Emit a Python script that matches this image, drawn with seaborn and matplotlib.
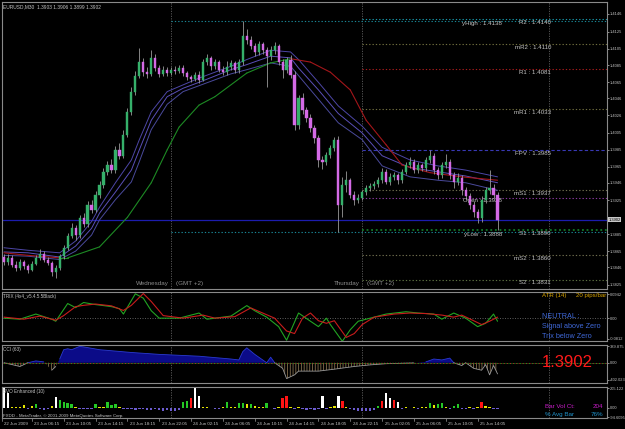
import numpy as np
import pandas as pd
import matplotlib
matplotlib.use("Agg")
import matplotlib.pyplot as plt
import matplotlib.transforms as mtransforms
import seaborn as sns

# ------------------------------------------------------------------ data
chart_title = "EURUSD,M30  1.3903 1.3906 1.3899 1.3902"
first_open = 1.3858
closes = [1.3852, 1.3857, 1.3849, 1.3845, 1.3852, 1.3847, 1.3843, 1.3850, 1.3857, 1.3862,
          1.3855, 1.3851, 1.3840, 1.3845, 1.3859, 1.3869, 1.3883, 1.3892, 1.3884, 1.3904,
          1.3897, 1.3920, 1.3914, 1.3932, 1.3943, 1.3959, 1.3967, 1.3961, 1.3985, 1.3978,
          1.4003, 1.4030, 1.4054, 1.4073, 1.4089, 1.4077, 1.4075, 1.4094, 1.4082, 1.4075,
          1.4080, 1.4076, 1.4080, 1.4079, 1.4082, 1.4076, 1.4071, 1.4069, 1.4074, 1.4068,
          1.4089, 1.4094, 1.4084, 1.4089, 1.4080, 1.4077, 1.4083, 1.4088, 1.4080, 1.4089,
          1.4120, 1.4115, 1.4108, 1.4101, 1.4110, 1.4103, 1.4096, 1.4103, 1.4108, 1.4089,
          1.4080, 1.4091, 1.4074, 1.4014, 1.4046, 1.4032, 1.4023, 1.4011, 1.3999, 1.3973,
          1.3971, 1.3979, 1.3987, 1.3997, 1.3920, 1.3943, 1.3949, 1.3932, 1.3926, 1.3928,
          1.3935, 1.3940, 1.3942, 1.3944, 1.3949, 1.3959, 1.3947, 1.3953, 1.3955, 1.3949,
          1.3959, 1.3967, 1.3971, 1.3961, 1.3967, 1.3964, 1.3973, 1.3978, 1.3961, 1.3955,
          1.3967, 1.3971, 1.3955, 1.3947, 1.3952, 1.3937, 1.3930, 1.3920, 1.3911, 1.3904,
          1.3926, 1.3937, 1.3940, 1.3932, 1.3902]
highs = [1.3862, 1.3861, 1.3860, 1.3853, 1.3856, 1.3855, 1.3850, 1.3853, 1.3860, 1.3868,
         1.3865, 1.3858, 1.3853, 1.3848, 1.3862, 1.3872, 1.3886, 1.3898, 1.3896, 1.3908,
         1.3910, 1.3924, 1.3926, 1.3936, 1.3948, 1.3963, 1.3972, 1.3974, 1.3990, 1.3993,
         1.4008, 1.4035, 1.4060, 1.4078, 1.4106, 1.4094, 1.4083, 1.4103, 1.4098, 1.4086,
         1.4084, 1.4083, 1.4083, 1.4084, 1.4086, 1.4085, 1.4079, 1.4074, 1.4077, 1.4078,
         1.4093, 1.4098, 1.4096, 1.4093, 1.4092, 1.4084, 1.4090, 1.4092, 1.4090, 1.4093,
         1.4138, 1.4128, 1.4120, 1.4112, 1.4114, 1.4113, 1.4107, 1.4108, 1.4113, 1.4110,
         1.4093, 1.4095, 1.4097, 1.4078, 1.4050, 1.4052, 1.4036, 1.4027, 1.4015, 1.4003,
         1.3978, 1.3983, 1.3991, 1.4000, 1.4001, 1.3953, 1.3960, 1.3952, 1.3936, 1.3933,
         1.3938, 1.3943, 1.3946, 1.3948, 1.3953, 1.3963, 1.3962, 1.3957, 1.3959, 1.3958,
         1.3962, 1.3971, 1.3976, 1.3974, 1.3971, 1.3970, 1.3977, 1.3985, 1.3981, 1.3965,
         1.3971, 1.3980, 1.3974, 1.3959, 1.3957, 1.3955, 1.3941, 1.3934, 1.3924, 1.3915,
         1.3930, 1.3941, 1.3961, 1.3944, 1.3935]
lows = [1.3848, 1.3849, 1.3846, 1.3841, 1.3843, 1.3844, 1.3839, 1.3841, 1.3848, 1.3854,
        1.3852, 1.3848, 1.3836, 1.3833, 1.3843, 1.3856, 1.3866, 1.3880, 1.3878, 1.3881,
        1.3893, 1.3894, 1.3910, 1.3911, 1.3928, 1.3940, 1.3955, 1.3957, 1.3958, 1.3974,
        1.3975, 1.4000, 1.4026, 1.4050, 1.4070, 1.4072, 1.4070, 1.4072, 1.4078, 1.4071,
        1.4072, 1.4073, 1.4074, 1.4075, 1.4076, 1.4073, 1.4068, 1.4065, 1.4066, 1.4064,
        1.4066, 1.4085, 1.4080, 1.4081, 1.4077, 1.4074, 1.4074, 1.4080, 1.4076, 1.4076,
        1.4086, 1.4110, 1.4104, 1.4096, 1.4097, 1.4098, 1.4060, 1.4092, 1.4099, 1.4085,
        1.4070, 1.4076, 1.4070, 1.4008, 1.4010, 1.4028, 1.4018, 1.4006, 1.3993, 1.3965,
        1.3962, 1.3967, 1.3975, 1.3984, 1.3888, 1.3906, 1.3935, 1.3928, 1.3920, 1.3922,
        1.3925, 1.3931, 1.3936, 1.3939, 1.3941, 1.3946, 1.3944, 1.3943, 1.3949, 1.3945,
        1.3946, 1.3956, 1.3963, 1.3957, 1.3958, 1.3960, 1.3960, 1.3969, 1.3956, 1.3950,
        1.3952, 1.3963, 1.3951, 1.3940, 1.3943, 1.3932, 1.3925, 1.3915, 1.3906, 1.3898,
        1.3900, 1.3922, 1.3933, 1.3928, 1.3890]

# moving-average envelope (read at sample bars)
ma_bars = [0, 6, 14, 18, 22, 24, 28, 32, 34, 37, 41, 45, 49, 57, 61, 67, 72, 74, 79, 84, 90, 95, 102, 109, 116, 124]
band_upper = [1.3869, 1.3866, 1.3863, 1.3877, 1.3900, 1.3917, 1.3946, 1.3973, 1.3997, 1.4030, 1.4054, 1.4062, 1.4070,
              1.4084, 1.4092, 1.4103, 1.4101, 1.4092, 1.4065, 1.4037, 1.4013, 1.3988, 1.3973, 1.3966, 1.3961, 1.3953]
band_mid = [1.3864, 1.3863, 1.3858, 1.3871, 1.3892, 1.3910, 1.3935, 1.3961, 1.3985, 1.4020, 1.4048, 1.4058, 1.4065,
            1.4080, 1.4086, 1.4096, 1.4094, 1.4082, 1.4056, 1.4028, 1.4005, 1.3978, 1.3964, 1.3959, 1.3954, 1.3946]
band_lower = [1.3860, 1.3859, 1.3855, 1.3865, 1.3884, 1.3902, 1.3926, 1.3947, 1.3971, 1.4009, 1.4039, 1.4054, 1.4061,
              1.4075, 1.4080, 1.4088, 1.4084, 1.4073, 1.4045, 1.4017, 1.3997, 1.3966, 1.3953, 1.3949, 1.3946, 1.3937]
slow_bars = [0, 6, 14, 16, 24, 31, 37, 41, 44, 49, 53, 61, 67, 72, 77, 82, 87, 91, 96, 100, 107, 115, 124]
slow_ma = [1.3863, 1.3860, 1.3857, 1.3857, 1.3870, 1.3905, 1.3946, 1.3985, 1.4012, 1.4038, 1.4048, 1.4076,
           1.4088, 1.4093, 1.4089, 1.4077, 1.4056, 1.4020, 1.3991, 1.3967, 1.3958, 1.3953, 1.3949]

# pivots and levels
pivot_names = ["R2", "mR2", "R1", "mR1", "FPV", "mS1", "S1", "mS2", "S2"]
pivot_values = [1.4140, 1.4110, 1.4081, 1.4033, 1.3985, 1.3937, 1.3890, 1.3860, 1.3831]
y_high = 1.4138
y_low = 1.3888
day_open = 1.3928
last_price = 1.3902
day_breaks = [42, 90, 137]
day_names = ["Wednesday", "Thursday"]

price_ticks = [1.4146, 1.4125, 1.4105, 1.4085, 1.4065, 1.4046, 1.4026, 1.4005, 1.3985, 1.3965,
               1.3946, 1.3925, 1.3885, 1.3865, 1.3846, 1.3825]

# TRIX panel
trix_bars = [0, 4, 8, 12, 13, 16, 18, 20, 23, 27, 29, 30, 33, 35, 37, 39, 44, 49, 51, 57, 61, 63, 66, 69, 71,
             74, 77, 79, 81, 82, 85, 87, 89, 92, 96, 101, 104, 108, 110, 113, 116, 119, 121, 123, 124]
trix_main = [0, -0.004, 0.016, -0.004, -0.012, 0.057, 0.041, 0.061, 0.053, 0.045, 0.037, 0.016, 0.095, 0.078,
             0.029, 0, 0, 0.020, -0.004, 0.008, 0.049, 0.029, 0.004, -0.033, -0.086, 0.020, -0.012, -0.033, 0,
             -0.025, -0.090, -0.045, -0.012, 0, 0.016, 0.025, 0.020, 0.016, -0.004, 0.020, 0, -0.033, -0.020,
             0.016, -0.012]
signal_bars = [0, 5, 9, 13, 15, 18, 20, 23, 27, 30, 32, 35, 37, 40, 45, 50, 53, 58, 62, 65, 68, 71, 73, 75, 77,
               79, 81, 83, 86, 88, 90, 93, 98, 102, 106, 110, 113, 115, 118, 120, 122, 124]
trix_signal = [0.004, -0.004, 0.008, -0.008, 0.010, 0.045, 0.050, 0.055, 0.048, 0.030, 0.050, 0.096, 0.065, 0.010,
               0, 0.012, 0, 0.006, 0.040, 0.020, 0, -0.050, -0.060, 0, 0.020, -0.010, -0.020, -0.010, -0.075,
               -0.060, -0.025, 0.004, 0.016, 0.020, 0.018, 0.012, 0.004, 0.012, -0.010, -0.025, -0.012, 0.004]
trix_ticks = [0.0942, 0.0, -0.0812]
trix_tick_labels = ["0.0942", "0.00", "-0.0812"]

# CCI panel
cci_bars = [0, 2, 4, 6, 8, 10, 12, 13, 14, 15, 16, 17, 19, 20, 24, 32, 39, 49, 57, 59, 60, 61, 63, 65, 66, 67,
            68, 69, 70, 71, 73, 74, 79, 83, 88, 92, 96, 103, 106, 108, 110, 112, 113, 115, 116, 118, 120, 121,
            122, 123, 124]
cci_values = [0, -43, -87, 0, 43, 20, -174, -87, 87, 304, 326, 304, 380, 369, 304, 239, 195, 152, 87, 65, 260,
              347, 195, 65, 0, 130, 0, -65, -130, -369, -282, -195, -195, -150, -87, -50, -22, -5, 20, 87, 65,
              108, 0, -65, 0, -130, -174, -43, -282, -65, -260]
cci_ticks = [389.875, 0.0, -402.023]
cci_tick_labels = ["389.875", "0.00", "-402.023"]

# volume panel
vol_values = [200, 150, 10, 8, 12, 25, -12, 15, 40, -10,
              -18, -15, 20, 110, 80, 65, 55, 40, 12, -8,
              -12, -15, -10, 35, 8, 10, 60, 25, 40, 10,
              -10, -8, -12, -20, -15, -10, -20, -25, -12, -20,
              -30, -25, -35, -30, -20, 60, 75, 100, 205, 120,
              8, 5, -5, -15, -12, 10, 60, 8, 10, 45,
              50, 35, 40, 20, 10, 8, 50, -6, -8, 10,
              100, 120, 8, -10, 6, -12, -18, -15, -20, -14,
              120, -8, 12, 20, 120, 70, 10, -15, -25, -30,
              -28, -35, -30, -20, 15, 70, 150, 100, 80, 60,
              -8, 8, -6, 10, -10, 6, 8, 50, 30, 40,
              50, 12, -10, 15, 40, -12, -10, 10, -8, 8,
              60, 15, 10, -10, -15]
vol_kind = ["W", "W", "Y", "Y", "Y", "Y", "N", "Y", "G", "N",
            "N", "N", "Y", "W", "G", "G", "G", "G", "Y", "N",
            "N", "N", "N", "G", "Y", "Y", "G", "G", "G", "Y",
            "N", "N", "N", "N", "N", "N", "N", "N", "N", "N",
            "N", "N", "N", "N", "N", "G", "G", "R", "W", "W",
            "Y", "Y", "N", "N", "N", "Y", "G", "Y", "Y", "G",
            "G", "Y", "G", "Y", "Y", "Y", "G", "N", "N", "Y",
            "R", "R", "Y", "N", "Y", "N", "N", "N", "N", "N",
            "W", "N", "Y", "Y", "W", "R", "Y", "N", "N", "N",
            "N", "N", "N", "N", "G", "R", "W", "W", "R", "W",
            "N", "Y", "N", "Y", "N", "Y", "Y", "G", "Y", "G",
            "G", "Y", "N", "G", "G", "N", "N", "Y", "N", "Y",
            "R", "Y", "Y", "N", "N"]
vol_ticks = [205.122, 0.0, -94.6095]
vol_tick_labels = ["205.122", "0.00", "-94.6095"]
bar_vol_count = "204"
avg_bar_pct = "76%"
atr_text = "20 pips/bar"

date_tick_bars = [-0.5, 7, 15, 23, 31, 39, 47, 55, 63, 71, 79, 87, 95, 103, 111, 119]
date_tick_labels = ["22 Jun 2009", "23 Jun 06:15", "23 Jun 10:05", "23 Jun 14:15", "23 Jun 18:15",
                    "23 Jun 22:05", "24 Jun 02:15", "24 Jun 06:05", "24 Jun 10:15", "24 Jun 14:15",
                    "24 Jun 18:05", "24 Jun 22:15", "25 Jun 02:05", "25 Jun 06:05", "25 Jun 10:05",
                    "25 Jun 14:05"]

# ------------------------------------------------------------------ style
sns.set_theme(style="dark", rc={"axes.facecolor": "black", "figure.facecolor": "black"})
plt.rcParams["font.family"] = ["Liberation Sans", "DejaVu Sans"]
plt.rcParams["hatch.linewidth"] = 0.6

W, H = 625, 429
fig = plt.figure(figsize=(W / 100, H / 100), dpi=100, facecolor="black")


def rect(top, bottom):
    return [2 / W, 1 - bottom / H, 605 / W, (bottom - top) / H]


ax_p = fig.add_axes(rect(2, 289))
ax_t = fig.add_axes(rect(292, 341), sharex=ax_p)
ax_c = fig.add_axes(rect(345, 383), sharex=ax_p)
ax_v = fig.add_axes(rect(387, 418), sharex=ax_p)
axes = [ax_p, ax_t, ax_c, ax_v]

TXT = "#c4c4c4"
GRID = "#5e5e5e"

# ------------------------------------------------------------------ price panel
x = np.arange(len(closes))
c = np.array(closes)
o = np.r_[first_open, c[:-1]]
up = c >= o
ax_p.vlines(x, lows, highs, color="#9a9a9a", lw=0.6, zorder=3)
ax_p.bar(x[up], (c - o)[up], bottom=o[up], width=0.55, color="#35b06a", edgecolor="#35b06a",
         linewidth=0.3, zorder=4)
ax_p.bar(x[~up], (c - o)[~up], bottom=o[~up], width=0.55, color="#d46ae6", edgecolor="#d46ae6",
         linewidth=0.3, zorder=4)

bands = pd.DataFrame({"bar": ma_bars, "upper": band_upper, "mid": band_mid, "lower": band_lower})
bands = bands.melt("bar", var_name="band", value_name="price")
sns.lineplot(data=bands, x="bar", y="price", hue="band",
             palette={"upper": "#4d46a6", "mid": "#5a4fb8", "lower": "#4a4a9c"},
             lw=0.7, legend=False, ax=ax_p, zorder=2)
for k in range(len(slow_bars) - 1):
    col = "#1d8a24" if slow_ma[k + 1] >= slow_ma[k] else "#a3161a"
    ax_p.plot(slow_bars[k:k + 2], slow_ma[k:k + 2], color=col, lw=0.8, zorder=2)

XR = 151.5
ax_p.axhline(last_price, color="#1c1cae", lw=0.9, zorder=1)
dot = (0, (1.2, 1.8))
ax_p.hlines([y_high, y_low], day_breaks[0], XR, colors="#1a8594", lw=0.8, linestyles=dot, zorder=1)
pivot_colors = {"R2": "#1a95a8", "mR2": "#6e6d3e", "R1": "#a31c1c", "mR1": "#6e6d3e", "FPV": "#3838b4",
                "mS1": "#6e6d4e", "S1": "#14902e", "mS2": "#6e6d4e", "S2": "#5c7040"}
for name, val in zip(pivot_names, pivot_values):
    ls = (0, (3, 2)) if name == "FPV" else dot
    lw = 1.1 if name == "S1" else 0.8
    ax_p.hlines(val, day_breaks[1], XR, colors=pivot_colors[name], lw=lw, linestyles=ls, zorder=1)
    ax_p.text(137.4, val - 0.00008, f"{name} : {val:.4f}", color=TXT, fontsize=4.4, ha="right", va="top")
ax_p.hlines(day_open, day_breaks[1], XR, colors="#8a3a9e", lw=0.8, linestyles=dot, zorder=1)
ax_p.text(125.1, y_high - 0.00008, f"yHigh : {y_high:.4f}", color=TXT, fontsize=4.4, ha="right", va="top")
ax_p.text(125.1, day_open - 0.00002, f"Open : {day_open:.4f}", color=TXT, fontsize=4.4, ha="right", va="top")
ax_p.text(125.1, y_low - 0.00008, f"yLow : {y_low:.4f}", color=TXT, fontsize=4.4, ha="right", va="top")

ax_p.text(0.002, 0.992, chart_title, transform=ax_p.transAxes, color=TXT, fontsize=3.5, ha="left", va="top")
trp = mtransforms.blended_transform_factory(ax_p.transData, ax_p.transAxes)
for d, nm in zip(day_breaks[:2], day_names):
    ax_p.text(d - 0.6, 0.018, nm, transform=trp, color="#8c8c8c", fontsize=4.5, ha="right", va="center")
    ax_p.text(d + 1.3, 0.018, "(GMT +2)", transform=trp, color="#8c8c8c", fontsize=4.5, ha="left", va="center")

ax_p.set_ylim(1.38201, 1.41602)
ax_p.set_yticks(price_ticks)
ax_p.set_yticklabels([f"{t:.4f}" for t in price_ticks])
tra = mtransforms.blended_transform_factory(ax_p.transAxes, ax_p.transData)
ax_p.text(1.002, last_price, f"{last_price:.4f}", transform=tra, color="black", fontsize=2.9, ha="left",
          va="center", bbox=dict(boxstyle="square,pad=0.15", fc="#c8c8c8", ec="none"), clip_on=False, zorder=10)

# ------------------------------------------------------------------ TRIX panel
ax_t.axhline(0, color="#6a6a6a", lw=0.6, ls=dot)
sns.lineplot(x=trix_bars, y=trix_main, color="#22a422", lw=0.8, ax=ax_t)
sns.lineplot(x=signal_bars, y=trix_signal, color="#c81c1c", lw=0.8, ax=ax_t)
ax_t.set_ylim(-0.089, 0.102)
ax_t.set_yticks(trix_ticks)
ax_t.set_yticklabels(trix_tick_labels)
ax_t.text(0.002, 0.95, "TRIX (4x4_v5.4.5.5Black)", transform=ax_t.transAxes, color=TXT, fontsize=3.3,
          ha="left", va="top")
ax_t.text(0.8926, 0.92, "ATR (14)", transform=ax_t.transAxes, color="#d9a400", fontsize=4.4, ha="left",
          va="center")
ax_t.text(0.9995, 0.92, atr_text, transform=ax_t.transAxes, color="#d9a400", fontsize=4.4, ha="right",
          va="center")
for yy, s in zip([0.49, 0.29, 0.10], ["NEUTRAL :", "Signal above Zero", "Trix below Zero"]):
    ax_t.text(0.8926, yy, s, transform=ax_t.transAxes, color="#3f68d8", fontsize=5.2, ha="left", va="center")

# ------------------------------------------------------------------ CCI panel
cx = np.array(cci_bars, float)
cv = np.array(cci_values, float)
ax_c.fill_between(cx, 0, cv, where=cv >= 0, interpolate=True, color="#0b0b88", lw=0)
ax_c.fill_between(cx, 0, cv, where=cv <= 0, interpolate=True, facecolor="none", edgecolor="#86704f",
                  hatch="||||||", lw=0)
ax_c.plot(cx, np.ma.masked_where(cv < 0, cv), color="#2a3ad0", lw=0.6)
ax_c.plot(cx, np.ma.masked_where(cv > 0, cv), color="#9a9a9a", lw=0.6)
ax_c.axhline(0, color="#b02a2a", lw=0.7, ls=(0, (1, 2)))
ax_c.axhline(0, color="#22a022", lw=0.7, ls=(1.5, (1, 2)))
ax_c.set_ylim(-471.9, 413.2)
ax_c.set_yticks(cci_ticks)
ax_c.set_yticklabels(cci_tick_labels)
ax_c.text(0.002, 0.95, "CCI (63)", transform=ax_c.transAxes, color=TXT, fontsize=3.4, ha="left", va="top")
ax_c.text(0.8926, 0.53, f"{last_price:.4f}", transform=ax_c.transAxes, color="#ff1a1a", fontsize=12,
          ha="left", va="center")

# ------------------------------------------------------------------ volume panel
vol_palette = {"W": "#ffffff", "G": "#25c825", "Y": "#e6e600", "R": "#ff1414", "N": "#6c5cd0"}
ax_v.bar(np.arange(len(vol_values)), vol_values, width=0.6, color=[vol_palette[k] for k in vol_kind],
         linewidth=0)
ax_v.set_ylim(-104.9, 215.5)
ax_v.set_yticks(vol_ticks)
ax_v.set_yticklabels(vol_tick_labels)
ax_v.text(0.002, 0.95, "BVO Enhanced (10)", transform=ax_v.transAxes, color=TXT, fontsize=3.3, ha="left",
          va="top")
ax_v.text(0.002, 0.07, "FXDD - MetaTrader, \u00a9 2001-2009 MetaQuotes Software Corp.", transform=ax_v.transAxes,
          color=TXT, fontsize=3.2, ha="left", va="center")
ax_v.text(0.8975, 0.37, "Bar Vol Ct:", transform=ax_v.transAxes, color="#c81cc8", fontsize=4.5, ha="left",
          va="center")
ax_v.text(0.994, 0.37, bar_vol_count, transform=ax_v.transAxes, color="#c81cc8", fontsize=4.5, ha="right",
          va="center")
ax_v.text(0.8975, 0.11, "% Avg Bar", transform=ax_v.transAxes, color="#1e90c8", fontsize=4.5, ha="left",
          va="center")
ax_v.text(0.994, 0.11, avg_bar_pct, transform=ax_v.transAxes, color="#1e90c8", fontsize=4.5, ha="right",
          va="center")

trv = mtransforms.blended_transform_factory(ax_v.transData, ax_v.transAxes)
for b, lab in zip(date_tick_bars, date_tick_labels):
    ax_v.plot([b, b], [0, -0.1], transform=trv, color="#9a9a9a", lw=0.5, clip_on=False)
    ax_v.text(b + 0.6, -0.18, lab, transform=trv, color=TXT, fontsize=3.2, ha="left", va="center",
              clip_on=False)

# ------------------------------------------------------------------ common
for ax in axes:
    ax.set_facecolor("black")
    for s in ax.spines.values():
        s.set_color("#8a8a8a")
        s.set_linewidth(0.8)
    ax.yaxis.tick_right()
    ax.tick_params(axis="y", colors=TXT, labelsize=2.9, length=1.5, width=0.5, pad=0.8, right=True, left=False)
    ax.tick_params(axis="x", bottom=False, labelbottom=False, top=False)
    ax.grid(False)
    ax.set_xlabel("")
    ax.set_ylabel("")
    for d in day_breaks:
        ax.axvline(d, color=GRID, lw=0.6, ls=(0, (1.5, 1.5)), zorder=0.5)
ax_p.set_xlim(-0.5, 151.5)

fig.savefig("out.png", dpi=100, facecolor="black")
